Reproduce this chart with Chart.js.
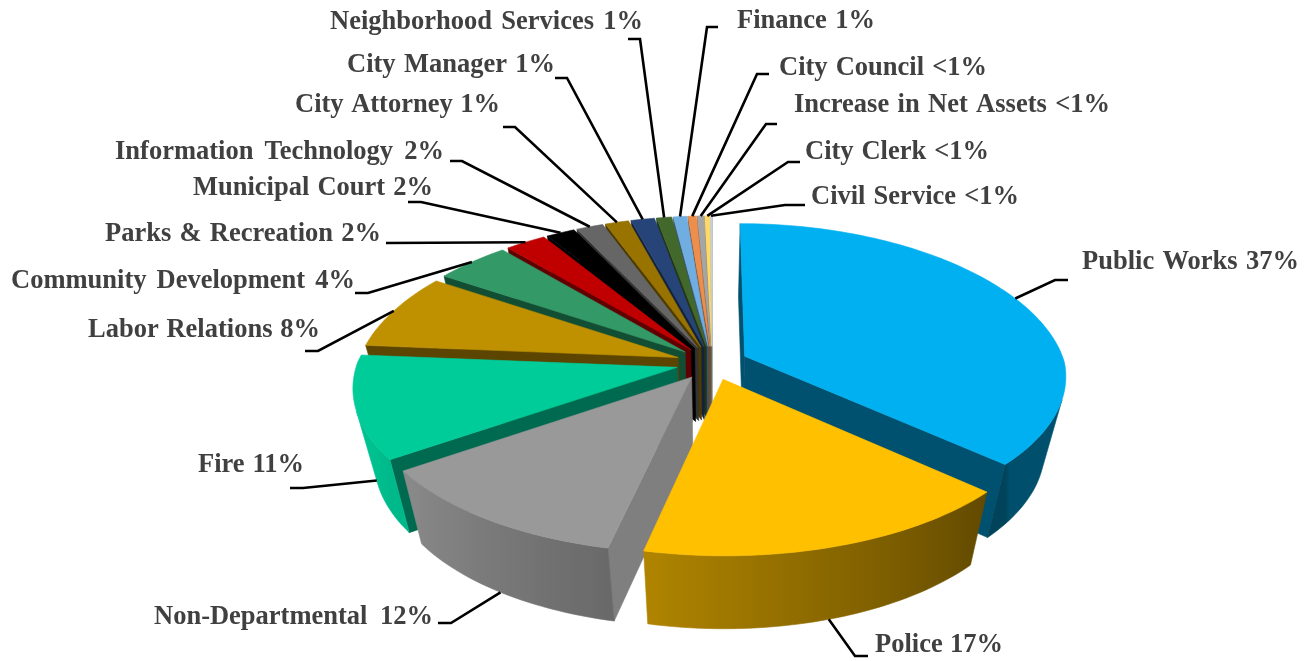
<!DOCTYPE html>
<html>
<head>
<meta charset="utf-8">
<title>Expenditures by Department</title>
<script src="https://cdn.jsdelivr.net/npm/chart.js@4/dist/chart.umd.js"></script>
<style>
  html, body { margin: 0; background: #fff; }
  canvas { display: block; }
</style>
</head>
<body>
<canvas id="deptChart" width="1315" height="661"></canvas>
<script>
const categories = ['Public Works', 'Police', 'Non-Departmental', 'Fire', 'Labor Relations',
    'Community Development', 'Parks & Recreation', 'Municipal Court', 'Information Technology',
    'City Attorney', 'City Manager', 'Neighborhood Services', 'Finance', 'City Council',
    'Increase in Net Assets', 'City Clerk', 'Civil Service'];
const shares = [37, 17, 12, 11, 8, 4.4, 2.4, 1.7, 1.6, 1.4, 1.4, 0.9, 0.8, 0.5, 0.4, 0.3, 0.1];
const shareLabels = ['37%', '17%', '12%', '11%', '8%', '4%', '2%', '2%', '2%',
    '1%', '1%', '1%', '1%', '<1%', '<1%', '<1%', '<1%'];
const topColors = ['#00b0f0', '#ffc000', '#999999', '#00cc99', '#bf9000', '#339966', '#c00000',
    '#000000', '#666666', '#997300', '#264478', '#43682b', '#70ade0', '#ed8e4c', '#a5a5a5',
    '#ffd966', '#c5d5e8'];
const cutColors = ['#00506f', '#7a6000', '#7f7f7f', '#006a50', '#5c4500', '#124e33', '#600000',
    '#000000', '#333333', '#4d3a00', '#13223c', '#223416', '#385670', '#774726', '#535353',
    '#806d33', '#626a74'];

// where each caption sits: left edge, width, centre line, leader elbow, end of the leader stub
const captions = [
    { x: 1082, w: 217, y: 262, elbow: [1055, 280], stub: 1068 },
    { x: 875, w: 128, y: 645, elbow: [855, 656], stub: 868 },
    { x: 154, w: 279, y: 617, elbow: [451, 623], stub: 438 },
    { x: 198, w: 106, y: 465, elbow: [303, 488], stub: 290 },
    { x: 88, w: 232, y: 330, elbow: [318, 351], stub: 305 },
    { x: 11, w: 344, y: 281, elbow: [368, 293], stub: 355 },
    { x: 105, w: 276, y: 234, elbow: [386, 243], stub: 386 },
    { x: 193, w: 240, y: 188, elbow: [421, 202], stub: 408 },
    { x: 115, w: 329, y: 152, elbow: [462, 161], stub: 450 },
    { x: 295, w: 205, y: 105, elbow: [515, 127], stub: 503 },
    { x: 347, w: 208, y: 65, elbow: [567, 78], stub: 555 },
    { x: 330, w: 313, y: 22, elbow: [640, 39], stub: 628 },
    { x: 737, w: 138, y: 21, elbow: [707, 27], stub: 718 },
    { x: 779, w: 208, y: 68, elbow: [757, 74], stub: 769 },
    { x: 794, w: 316, y: 105, elbow: [766, 124], stub: 777 },
    { x: 805, w: 184, y: 152, elbow: [788, 162], stub: 800 },
    { x: 811, w: 208, y: 197, elbow: [785, 205], stub: 805 }
];

// view of the tilted disc
const TILT = 0.47;
const DEPTH = 2600;
const DEPTH_BACK_X = 2000;
const THICKNESS = 73;
const TAPER = 0.94;

function project(el, angle, radius, level) {
    const mid = (el.startAngle + el.endAngle) / 2;
    const u = Math.cos(mid) * el.options.offset + Math.cos(angle) * radius;
    const v = Math.sin(mid) * el.options.offset + Math.sin(angle) * radius;
    const s = DEPTH / (DEPTH - v);
    const sx = v < 0 ? DEPTH_BACK_X / (DEPTH_BACK_X - v) : s;
    const k = 1 + (TAPER - 1) * level;
    return [el.x + u * sx * k, el.y + v * TILT * s * k + THICKNESS * s * level];
}

function signedArea(pts) {
    let area = 0;
    pts.forEach((p, i) => {
        const q = pts[(i + 1) % pts.length];
        area += p[0] * q[1] - q[0] * p[1];
    });
    return area;
}

function fillPoly(ctx, pts, fill, edge) {
    ctx.beginPath();
    pts.forEach((p, i) => i ? ctx.lineTo(p[0], p[1]) : ctx.moveTo(p[0], p[1]));
    ctx.closePath();
    ctx.fillStyle = fill;
    ctx.strokeStyle = edge || fill;
    ctx.lineWidth = 0.6;
    ctx.fill();
    ctx.stroke();
}

// outer wall gets lighter towards the left hand side
function wallColor(hex, angle) {
    const deg = ((angle + Math.PI / 2) * 180 / Math.PI + 360) % 360;
    const shade = deg < 132 ? 0.45 : Math.min(0.95, 0.38 + (deg - 132) * 0.0051);
    const n = parseInt(hex.slice(1), 16);
    const c = [n >> 16, (n >> 8) & 255, n & 255].map(d => Math.round(d * shade));
    return `rgb(${c[0]},${c[1]},${c[2]})`;
}

class Slice3D extends Chart.ArcElement {
    static id = 'slice3d';

    draw(ctx) {
        const { startAngle, endAngle, outerRadius: r } = this;
        const { backgroundColor, borderColor } = this.options;
        const steps = Math.max(2, Math.ceil((endAngle - startAngle) * 40));
        const rim = [];
        for (let i = 0; i <= steps; i++) {
            rim.push(startAngle + (endAngle - startAngle) * i / steps);
        }

        // the two cut faces, walked the same way round as the top
        [[[startAngle, 0], [startAngle, r]], [[endAngle, r], [endAngle, 0]]].forEach(([a, b]) => {
            const quad = [project(this, a[0], a[1], 0), project(this, b[0], b[1], 0),
                project(this, b[0], b[1], 1), project(this, a[0], a[1], 1)];
            if (signedArea(quad) < 0) fillPoly(ctx, quad, borderColor);
        });

        // the part of the rounded wall that turns towards the viewer
        const seen = rim.filter((a, i) => {
            const next = rim[Math.min(i + 1, steps)];
            const prev = rim[Math.max(i - 1, 0)];
            return signedArea([project(this, prev, r, 0), project(this, next, r, 0),
                project(this, next, r, 1), project(this, prev, r, 1)]) < 0;
        });
        if (seen.length > 1) {
            const upper = seen.map(a => project(this, a, r, 0));
            const lower = seen.map(a => project(this, a, r, 1));
            const x0 = upper[0][0];
            const x1 = upper[upper.length - 1][0];
            const shadeFill = ctx.createLinearGradient(x0, 0, x1, 0);
            seen.forEach((a, i) => {
                const t = Math.min(1, Math.max(0, (upper[i][0] - x0) / (x1 - x0)));
                shadeFill.addColorStop(t, wallColor(backgroundColor, a));
            });
            fillPoly(ctx, [...upper, ...lower.reverse()], shadeFill);
        }

        fillPoly(ctx, [project(this, startAngle, 0, 0), ...rim.map(a => project(this, a, r, 0))], backgroundColor);
    }
}

class Pie3DController extends Chart.PieController {
    static id = 'pie3d';
    static defaults = { dataElementType: 'slice3d' };

    // paint from the back of the disc to the front
    draw() {
        const depthOf = el => Math.sin((el.startAngle + el.endAngle) / 2);
        [...this._cachedMeta.data]
            .sort((a, b) => depthOf(a) - depthOf(b))
            .forEach(el => el.draw(this._ctx));
    }
}

Chart.register(Slice3D, Pie3DController);

const captionPlugin = {
    id: 'captions',
    afterDatasetsDraw(chart) {
        const ctx = chart.ctx;
        ctx.save();
        chart.getDatasetMeta(0).data.forEach((el, i) => {
            const c = captions[i];
            const mid = (el.startAngle + el.endAngle) / 2;
            const from = project(el, mid, el.outerRadius, Math.sin(mid) > 0 ? 1 : 0);

            ctx.beginPath();
            ctx.moveTo(from[0], from[1]);
            ctx.lineTo(c.elbow[0], c.elbow[1]);
            ctx.lineTo(c.stub, c.elbow[1]);
            ctx.lineWidth = 2.6;
            ctx.strokeStyle = '#000';
            ctx.stroke();

            const text = `${categories[i]} ${shareLabels[i]}`;
            ctx.font = 'bold 26.5px "Liberation Serif"';
            ctx.fillStyle = '#404040';
            ctx.textAlign = 'left';
            ctx.textBaseline = 'middle';
            ctx.wordSpacing = '0px';
            const gaps = text.split(' ').length - 1;
            ctx.wordSpacing = `${(c.w - ctx.measureText(text).width) / gaps}px`;
            ctx.fillText(text, c.x, c.y);
            ctx.wordSpacing = '0px';
        });
        ctx.restore();
    }
};

new Chart(document.getElementById('deptChart'), {
    type: 'pie3d',
    data: {
        labels: categories,
        datasets: [{
            data: shares,
            backgroundColor: topColors,
            borderColor: cutColors,
            borderWidth: 0,
            offset: 36,
            radius: 320
        }]
    },
    options: {
        responsive: false,
        animation: false,
        devicePixelRatio: 1,
        events: [],
        radius: 320,
        layout: { padding: { left: 109, top: 65 } },
        plugins: { legend: { display: false }, tooltip: { enabled: false } }
    },
    plugins: [captionPlugin]
});
</script>
</body>
</html>
